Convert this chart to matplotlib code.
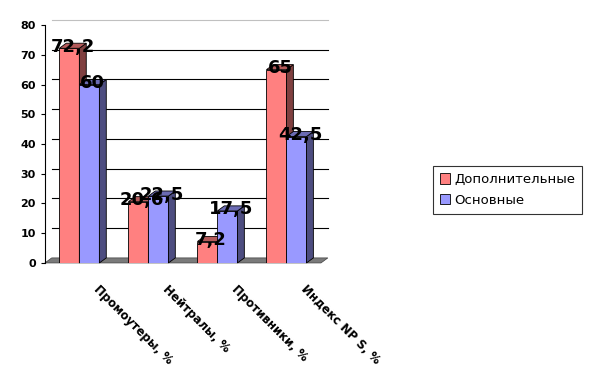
import numpy as np
import matplotlib.pyplot as plt
from matplotlib.patches import Polygon

# data
categories = ['Промоутеры, %', 'Нейтралы, %', 'Противники, %', 'Индекс NP S, %']
extra = [72.2, 20.6, 7.2, 65]      # Дополнительные
main = [60, 22.5, 17.5, 42.5]      # Основные
series_names = ['Дополнительные', 'Основные']

front_colors = ['#ff8080', '#9999ff']
side_colors = ['#804040', '#4d4d80']
top_colors = ['#b35a5a', '#6b6bb3']

fig = plt.figure(figsize=(5.9, 3.8), dpi=100)
ax = fig.add_axes([0.076, 0.308, 0.468, 0.626])

x = np.arange(len(categories))
w = 0.29
dx, dy = 0.1, 1.7   # fake 3D depth in data units

def fmt(v):
    return ('%g' % v).replace('.', ',')

# floor slab
ax.add_patch(Polygon([(-0.5, 0), (3.5, 0), (3.5 + dx, dy), (-0.5 + dx, dy)],
                     closed=True, facecolor='#7a7a7a', edgecolor='#404040',
                     lw=0.5, clip_on=False, zorder=1))

handles = []
for k, vals in enumerate([extra, main]):
    xs = x - w + k * w
    bars = ax.bar(xs, vals, width=w, align='edge', color=front_colors[k],
                  edgecolor='black', linewidth=0.6, zorder=3 + k)
    handles.append(bars)
    for xi, v in zip(xs, vals):
        # side face
        ax.add_patch(Polygon([(xi + w, 0), (xi + w + dx, dy), (xi + w + dx, v + dy), (xi + w, v)],
                             closed=True, facecolor=side_colors[k], edgecolor='black',
                             lw=0.6, zorder=3 + k, clip_on=False))
        # top face
        ax.add_patch(Polygon([(xi, v), (xi + dx, v + dy), (xi + w + dx, v + dy), (xi + w, v)],
                             closed=True, facecolor=top_colors[k], edgecolor='black',
                             lw=0.6, zorder=3 + k, clip_on=False))
    for xi, v in zip(xs, vals):
        ax.text(xi + w / 2 + 0.05, v + 0.5, fmt(v), ha='center', va='center',
                fontsize=13, fontweight='bold', color='black', zorder=10)

ax.set_xlim(-0.5, 3.5)
ax.set_ylim(0, 80)
ax.set_yticks(range(0, 81, 10))
ax.tick_params(axis='y', labelsize=8, length=3)
for lbl in ax.get_yticklabels():
    lbl.set_fontweight('bold')
ax.set_xticks(x)
ax.set_xticklabels([])
ax.tick_params(axis='x', length=0)

# back-wall gridlines
for g in range(10, 81, 10):
    ax.plot([-0.5 + dx, 3.5 + dx], [g + dy, g + dy], color='black' if g < 80 else '#c0c0c0',
            lw=0.8, zorder=0, clip_on=False)

for s in ['top', 'right', 'bottom']:
    ax.spines[s].set_visible(False)
ax.spines['left'].set_linewidth(0.8)

# rotated category labels
for xi, name in zip(x, categories):
    ax.annotate(name, xy=(xi, 0), xytext=(15, -14), textcoords='offset points',
                rotation=-45, rotation_mode='anchor', ha='left', va='top',
                fontsize=8.5, fontweight='bold', annotation_clip=False)

leg = fig.legend([h[0] for h in handles], series_names, loc='center',
                 bbox_to_anchor=(0.86, 0.5), fontsize=9.5, frameon=True,
                 fancybox=False, edgecolor='black', handlelength=0.8,
                 handleheight=0.8, handletextpad=0.3, borderpad=0.5,
                 labelspacing=0.6)
leg.get_frame().set_linewidth(0.8)

fig.savefig('out.png', dpi=100)
